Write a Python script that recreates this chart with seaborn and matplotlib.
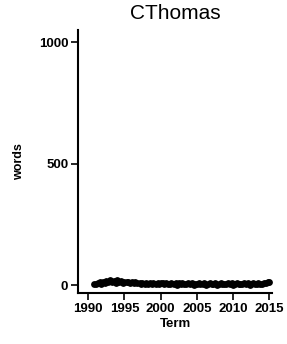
import pandas as pd
import seaborn as sns
import matplotlib.pyplot as plt

# argument dates (term + fraction) and words spoken
arg_date = [1990.8, 1991.1, 1991.3, 1991.6,
            1991.8, 1992.1, 1992.3, 1992.5,
            1992.8, 1993.0, 1993.3, 1993.5,
            1993.8, 1994.0, 1994.2, 1994.5,
            1994.8, 1995.0, 1995.3, 1995.5,
            1995.8, 1996.0, 1996.3, 1996.5,
            1996.8, 1997.1, 1997.3, 1997.5,
            1997.8, 1998.0, 1998.3, 1998.5,
            1998.8, 1999.0, 1999.3, 1999.6,
            1999.8, 2000.0, 2000.3, 2000.5,
            2000.8, 2001.0, 2001.3, 2001.5,
            2001.8, 2002.1, 2002.3, 2002.5,
            2002.8, 2003.0, 2003.3, 2003.5,
            2003.8, 2004.0, 2004.3, 2004.6,
            2004.8, 2005.0, 2005.3, 2005.5,
            2005.8, 2006.0, 2006.3, 2006.5,
            2006.8, 2007.1, 2007.3, 2007.5,
            2007.8, 2008.0, 2008.3, 2008.5,
            2008.8, 2009.0, 2009.3, 2009.6,
            2009.8, 2010.0, 2010.3, 2010.5,
            2010.8, 2011.0, 2011.3, 2011.5,
            2011.8, 2012.1, 2012.3, 2012.5,
            2012.8, 2013.0, 2013.3, 2013.5,
            2013.8, 2014.0, 2014.3, 2014.5,
            2014.8, 2015.0]
words = [6, 4, 9, 12,
         5, 14, 8, 18,
         11, 20, 12, 17,
         9, 19, 11, 15,
         10, 13, 11, 14,
         8, 12, 10, 11,
         7, 10, 6, 9,
         5, 8, 4, 10,
         6, 9, 3, 8,
         5, 7, 10, 4,
         8, 3, 6, 9,
         4, 7, 2, 8,
         5, 9, 3, 6,
         7, 4, 8, 2,
         6, 3, 9, 5,
         4, 7, 2, 6,
         8, 3, 5, 7,
         2, 6, 9, 4,
         5, 3, 7, 6,
         8, 2, 4, 9,
         3, 6, 5, 7,
         4, 8, 2, 6,
         7, 3, 5, 9,
         4, 6, 8, 10,
         12, 14]
x_ticks = [1990, 1995, 2000, 2005, 2010, 2015]
y_ticks = [0, 500, 1000]

df = pd.DataFrame({'Term': arg_date, 'words': words})

sns.set_style('ticks')
plt.rcParams['font.family'] = ['Liberation Sans', 'DejaVu Sans']
plt.rcParams['text.color'] = 'black'
plt.rcParams['axes.labelcolor'] = 'black'

fig = plt.figure(figsize=(2.87, 3.44), dpi=100)
ax = fig.add_axes([0.272, 0.148, 0.676, 0.765])

sns.scatterplot(data=df, x='Term', y='words', color='black', s=24,
                edgecolor='black', linewidth=0, ax=ax)

ax.set_xlim(1988.6, 2015.4)
ax.set_ylim(-33, 1050)
ax.set_xticks(x_ticks)
ax.set_yticks(y_ticks)
ax.tick_params(labelsize=9.5, length=5, width=1.2, pad=2, colors='black')
for lab in ax.get_xticklabels() + ax.get_yticklabels():
    lab.set_fontweight('bold')
ax.set_xlabel('Term', fontsize=9.5, fontweight='bold', labelpad=2)
ax.set_ylabel('words', fontsize=9, fontweight='bold', labelpad=10)
ax.set_title('CThomas', fontsize=15, pad=8, color='black')
sns.despine(ax=ax)
for sp in ax.spines.values():
    sp.set_linewidth(1.5)
    sp.set_color('black')

fig.savefig('out.png', dpi=100)
